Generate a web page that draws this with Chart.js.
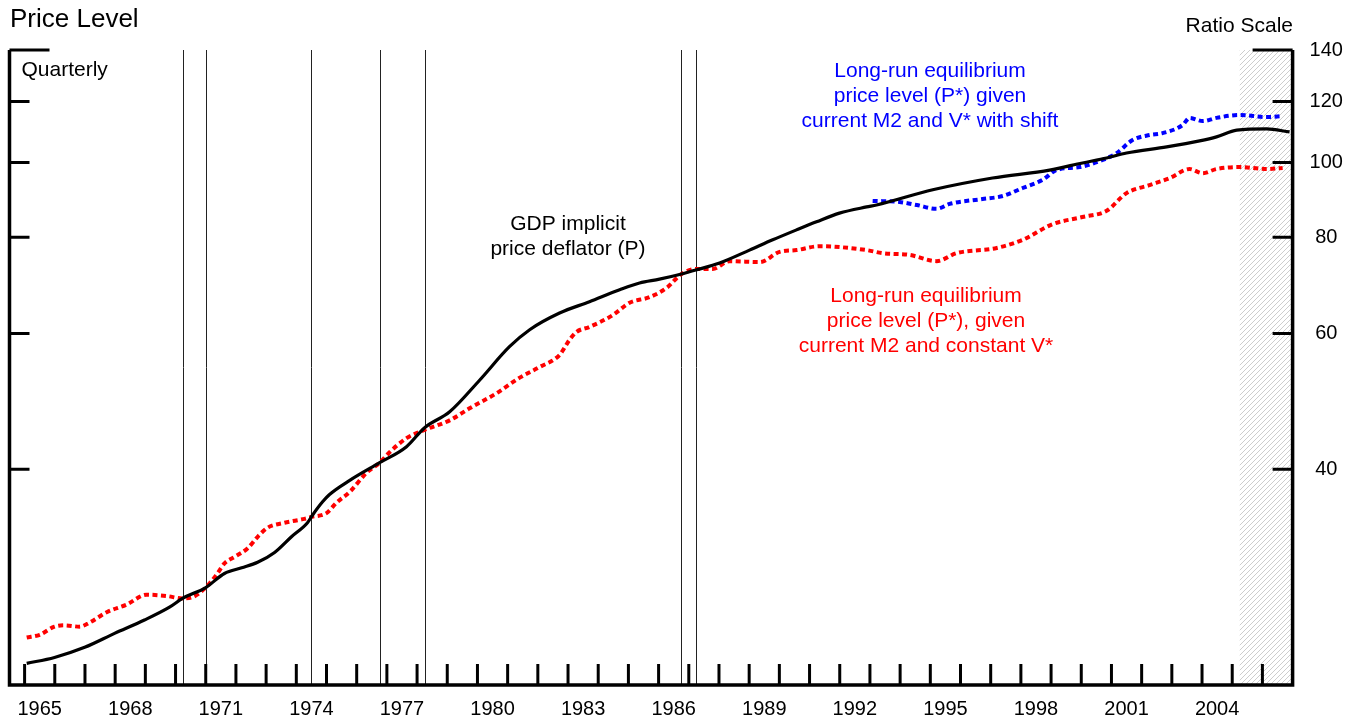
<!DOCTYPE html>
<html>
<head>
<meta charset="utf-8">
<title>Price Level</title>
<script src="https://cdn.jsdelivr.net/npm/chart.js@4.4.1/dist/chart.umd.min.js"></script>
<style>
  html, body { margin: 0; padding: 0; background: #fff; }
  canvas { display: block; }
</style>
</head>
<body>
<canvas id="priceChart" width="1356" height="720"></canvas>
<script>
// GDP implicit price deflator (P), quarterly
const pYears = [1965.07, 1965.99, 1966.99, 1967.98, 1968.97, 1969.80, 1970.23, 1971.00, 1971.62, 1972.19,
  1972.72, 1973.28, 1973.84, 1974.37, 1974.54, 1974.87, 1975.10, 1975.77, 1976.76, 1977.65,
  1978.25, 1979.08, 1980.07, 1981.06, 1981.73, 1982.72, 1983.71, 1984.71, 1985.37, 1986.03,
  1986.76, 1987.26, 1988.02, 1989.01, 1989.78, 1990.57, 1991.23, 1991.99, 1992.89, 1993.22,
  1995.08, 1997.06, 1998.95, 2000.04, 2000.84, 2001.50, 2002.83, 2003.92, 2004.48, 2005.15,
  2006.14, 2006.90];
const pValues = [22.4, 22.8, 23.5, 24.5, 25.5, 26.5, 27.2, 28.1, 29.3, 29.8,
  30.3, 31.2, 32.7, 34.1, 34.9, 36.3, 37.1, 38.7, 40.8, 42.8,
  45.3, 47.5, 52.2, 57.7, 60.7, 63.8, 66.0, 68.4, 69.8, 70.6,
  71.7, 72.6, 74.1, 77.0, 79.4, 81.8, 83.8, 86.0, 87.6, 88.1,
  92.2, 95.5, 97.8, 99.9, 101.4, 102.9, 104.8, 106.7, 108.0, 110.2,
  110.6, 109.6];

// P* given current M2 and constant V* (red)
const constYears = [1965.07, 1965.50, 1965.99, 1966.32, 1966.82, 1967.15, 1967.72, 1968.38, 1969.04, 1969.70,
  1970.23, 1970.56, 1971.00, 1971.36, 1971.62, 1971.96, 1972.39, 1972.72, 1973.05, 1973.61,
  1974.27, 1974.51, 1975.00, 1975.33, 1975.77, 1976.33, 1976.76, 1977.09, 1977.65, 1978.25,
  1979.08, 1979.74, 1980.63, 1981.40, 1982.06, 1982.72, 1983.05, 1983.28, 1983.71, 1984.48,
  1985.04, 1985.70, 1986.27, 1986.76, 1987.26, 1987.79, 1988.35, 1989.35, 1990.01, 1990.57,
  1991.33, 1991.99, 1992.89, 1993.42, 1994.31, 1995.21, 1995.87, 1997.20, 1998.06, 1999.05,
  2000.04, 2000.84, 2001.50, 2002.26, 2002.93, 2003.59, 2004.02, 2004.48, 2005.25, 2006.14,
  2006.67];
const constValues = [24.2, 24.4, 25.0, 25.1, 25.0, 25.3, 26.1, 26.7, 27.5, 27.4,
  27.2, 27.3, 28.1, 29.2, 30.2, 30.8, 31.6, 32.7, 33.6, 34.1,
  34.5, 34.7, 35.1, 36.2, 37.4, 39.6, 40.8, 42.1, 43.9, 45.0,
  46.3, 48.0, 50.2, 52.6, 54.3, 56.3, 58.9, 60.3, 61.2, 63.4,
  65.8, 66.9, 68.8, 71.7, 72.8, 72.8, 74.5, 74.3, 76.6, 77.0,
  77.9, 77.7, 77.0, 76.3, 75.9, 74.5, 76.3, 77.5, 79.4, 83.2,
  85.0, 86.6, 91.3, 93.5, 95.5, 98.1, 96.9, 98.1, 98.7, 98.1,
  98.4];

// P* given current M2 and V* with shift (blue)
const shiftYears = [1993.09, 1993.98, 1994.55, 1995.21, 1995.64, 1996.73, 1997.40, 1998.06, 1998.72, 1999.18,
  1999.95, 2000.71, 2001.17, 2001.70, 2002.26, 2002.69, 2003.36, 2003.59, 2004.02, 2004.48,
  2005.25, 2006.14, 2006.67];
const shiftValues = [89.2, 88.9, 88.1, 87.1, 88.4, 89.7, 90.5, 92.7, 95.0, 97.8,
  98.7, 100.8, 102.9, 107.0, 108.6, 109.2, 111.9, 114.3, 113.2, 114.3,
  115.3, 114.6, 114.9];

const markerYears = [1970.24, 1971.0, 1974.5, 1976.76, 1978.25, 1986.75, 1987.23];
const shadeFrom = 2005.25;
const xLabels = ['1965', '1968', '1971', '1974', '1977', '1980', '1983', '1986', '1989',
  '1992', '1995', '1998', '2001', '2004'];
const yTicks = [40, 60, 80, 100, 120, 140];

const FONT = "'Liberation Sans', Arial, Helvetica, sans-serif";
Chart.defaults.font.family = FONT;

const toPoints = (xs, ys) => xs.map((x, i) => ({ x: x, y: ys[i] }));

function hatch(ctx) {
  const c = document.createElement('canvas');
  c.width = 5; c.height = 5;
  const g = c.getContext('2d');
  g.strokeStyle = '#cdcdcd';
  g.lineWidth = 1;
  g.beginPath();
  g.moveTo(0, 5); g.lineTo(5, 0);
  g.moveTo(-1, 1); g.lineTo(1, -1);
  g.moveTo(4, 6); g.lineTo(6, 4);
  g.stroke();
  return ctx.createPattern(c, 'repeat');
}

const chartFrame = {
  id: 'chartFrame',
  beforeDatasetsDraw(chart) {
    const { ctx, chartArea: a, scales: { x } } = chart;
    ctx.save();
    // hatched projection period
    const sx = x.getPixelForValue(shadeFrom);
    ctx.fillStyle = hatch(ctx);
    ctx.fillRect(sx, a.top, a.right - sx, a.bottom - a.top);
    // vertical marker lines
    ctx.strokeStyle = '#222';
    ctx.lineWidth = 1;
    markerYears.forEach(yr => {
      const px = Math.round(x.getPixelForValue(yr)) + 0.5;
      ctx.beginPath();
      ctx.moveTo(px, a.top);
      ctx.lineTo(px, a.bottom);
      ctx.stroke();
    });
    ctx.restore();
  },
  afterDatasetsDraw(chart) {
    const { ctx, chartArea: a, scales: { x, y } } = chart;
    ctx.save();
    ctx.strokeStyle = '#000';
    ctx.lineCap = 'butt';

    // frame: left, bottom, right
    ctx.lineWidth = 3.5;
    ctx.beginPath();
    ctx.moveTo(a.left, a.top);
    ctx.lineTo(a.left, a.bottom);
    ctx.lineTo(a.right, a.bottom);
    ctx.lineTo(a.right, a.top);
    ctx.stroke();

    // inward ticks on both vertical axes
    ctx.lineWidth = 3;
    yTicks.forEach(v => {
      const py = y.getPixelForValue(v);
      const len = v === 140 ? 40 : 20;
      ctx.beginPath();
      ctx.moveTo(a.left, py); ctx.lineTo(a.left + len, py);
      ctx.moveTo(a.right - len, py); ctx.lineTo(a.right, py);
      ctx.stroke();
    });

    // yearly ticks on the bottom axis
    for (let yr = 1965; yr <= 2006; yr++) {
      const px = x.getPixelForValue(yr);
      ctx.beginPath();
      ctx.moveTo(px, a.bottom);
      ctx.lineTo(px, a.bottom - 21);
      ctx.stroke();
    }

    // texts
    ctx.fillStyle = '#000';
    ctx.textBaseline = 'alphabetic';
    ctx.textAlign = 'left';
    ctx.font = '26px ' + FONT;
    ctx.fillText('Price Level', 10, 27);
    ctx.font = '21px ' + FONT;
    ctx.fillText('Quarterly', 21.5, 76);
    ctx.textAlign = 'right';
    ctx.fillText('Ratio Scale', 1293, 32);

    ctx.textAlign = 'center';
    ctx.fillText('GDP implicit', 568, 230);
    ctx.fillText('price deflator (P)', 568, 255);

    ctx.fillStyle = '#0000ff';
    ['Long-run equilibrium', 'price level (P*) given', 'current M2 and V* with shift']
      .forEach((t, i) => ctx.fillText(t, 930, 77 + i * 25));
    ctx.fillStyle = '#ff0000';
    ['Long-run equilibrium', 'price level (P*), given', 'current M2 and constant V*']
      .forEach((t, i) => ctx.fillText(t, 926, 302 + i * 25));
    ctx.restore();
  }
};

new Chart(document.getElementById('priceChart'), {
  type: 'line',
  data: {
    datasets: [
      {
        label: 'GDP implicit price deflator (P)',
        data: toPoints(pYears, pValues),
        borderColor: '#000000',
        borderWidth: 3.2,
        pointRadius: 0,
        cubicInterpolationMode: 'monotone'
      },
      {
        label: 'P* with constant V*',
        data: toPoints(constYears, constValues),
        borderColor: '#ff0000',
        borderWidth: 4,
        borderDash: [5, 3.5],
        pointRadius: 0,
        cubicInterpolationMode: 'monotone'
      },
      {
        label: 'P* with V* shift',
        data: toPoints(shiftYears, shiftValues),
        borderColor: '#0000ff',
        borderWidth: 4,
        borderDash: [5, 3.5],
        pointRadius: 0,
        cubicInterpolationMode: 'monotone'
      }
    ]
  },
  options: {
    responsive: false,
    animation: false,
    devicePixelRatio: 1,
    layout: { padding: { left: 9.5, top: 50, right: 12.8, bottom: 1 } },
    plugins: { legend: { display: false }, tooltip: { enabled: false } },
    scales: {
      x: {
        type: 'linear',
        min: 1964.5,
        max: 2007,
        grid: { display: false, drawTicks: false },
        border: { display: false },
        afterBuildTicks: s => { s.ticks = xLabels.map(l => ({ value: Number(l) + 0.5 })); },
        afterFit: s => { s.height = 34; },
        ticks: {
          autoSkip: false,
          maxRotation: 0,
          padding: 12.5,
          color: '#000',
          font: { size: 20 },
          callback: (v, i) => xLabels[i]
        }
      },
      y: {
        type: 'logarithmic',
        position: 'right',
        min: 21,
        max: 140,
        grid: { display: false, drawTicks: false },
        border: { display: false },
        afterBuildTicks: s => { s.ticks = yTicks.map(v => ({ value: v })); },
        afterFit: s => { s.width = 50.6; },
        ticks: {
          padding: 17,
          crossAlign: 'center',
          color: '#000',
          font: { size: 20 },
          callback: v => String(v)
        }
      }
    }
  },
  plugins: [chartFrame]
});
</script>
</body>
</html>
